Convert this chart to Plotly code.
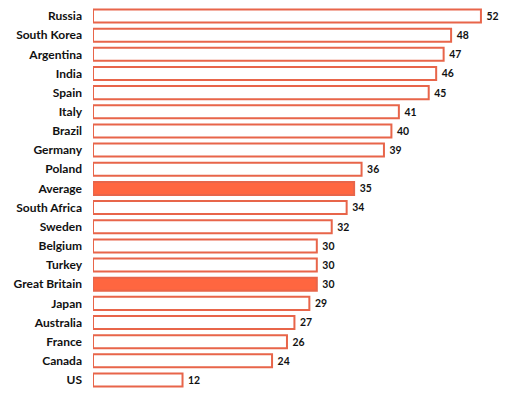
import plotly.graph_objects as go

countries = ["Russia", "South Korea", "Argentina", "India", "Spain", "Italy", "Brazil",
             "Germany", "Poland", "Average", "South Africa", "Sweden", "Belgium", "Turkey",
             "Great Britain", "Japan", "Australia", "France", "Canada", "US"]
values = [52, 48, 47, 46, 45, 41, 40, 39, 36, 35, 34, 32, 30, 30, 30, 29, 27, 26, 24, 12]
highlight = ["Average", "Great Britain"]

ORANGE = "#FF6640"
EDGE = "#E8654A"
fills = [ORANGE if c in highlight else "white" for c in countries]

fig = go.Figure(go.Bar(
    x=values, y=countries, orientation="h",
    marker=dict(color=fills, line=dict(color=EDGE, width=2)),
    text=["\u00a0" + str(v) for v in values], textposition="outside",
    textfont=dict(family="Lato", size=12, color="#111111", weight="bold"),
    cliponaxis=False,
))

fig.update_layout(
    width=518, height=397,
    margin=dict(l=85, r=10, t=0, b=8, autoexpand=False),
    paper_bgcolor="white", plot_bgcolor="white",
    bargap=0.32, showlegend=False,
    xaxis=dict(range=[0, 56.7], visible=False, automargin=False),
    yaxis=dict(range=[19.887, -0.4176], showgrid=False, zeroline=False, showline=False,
               ticks="", ticklabelstandoff=10, automargin=False,
               tickfont=dict(family="Lato", size=12, color="#111111", weight="bold")),
)

fig.write_html("out.html")
